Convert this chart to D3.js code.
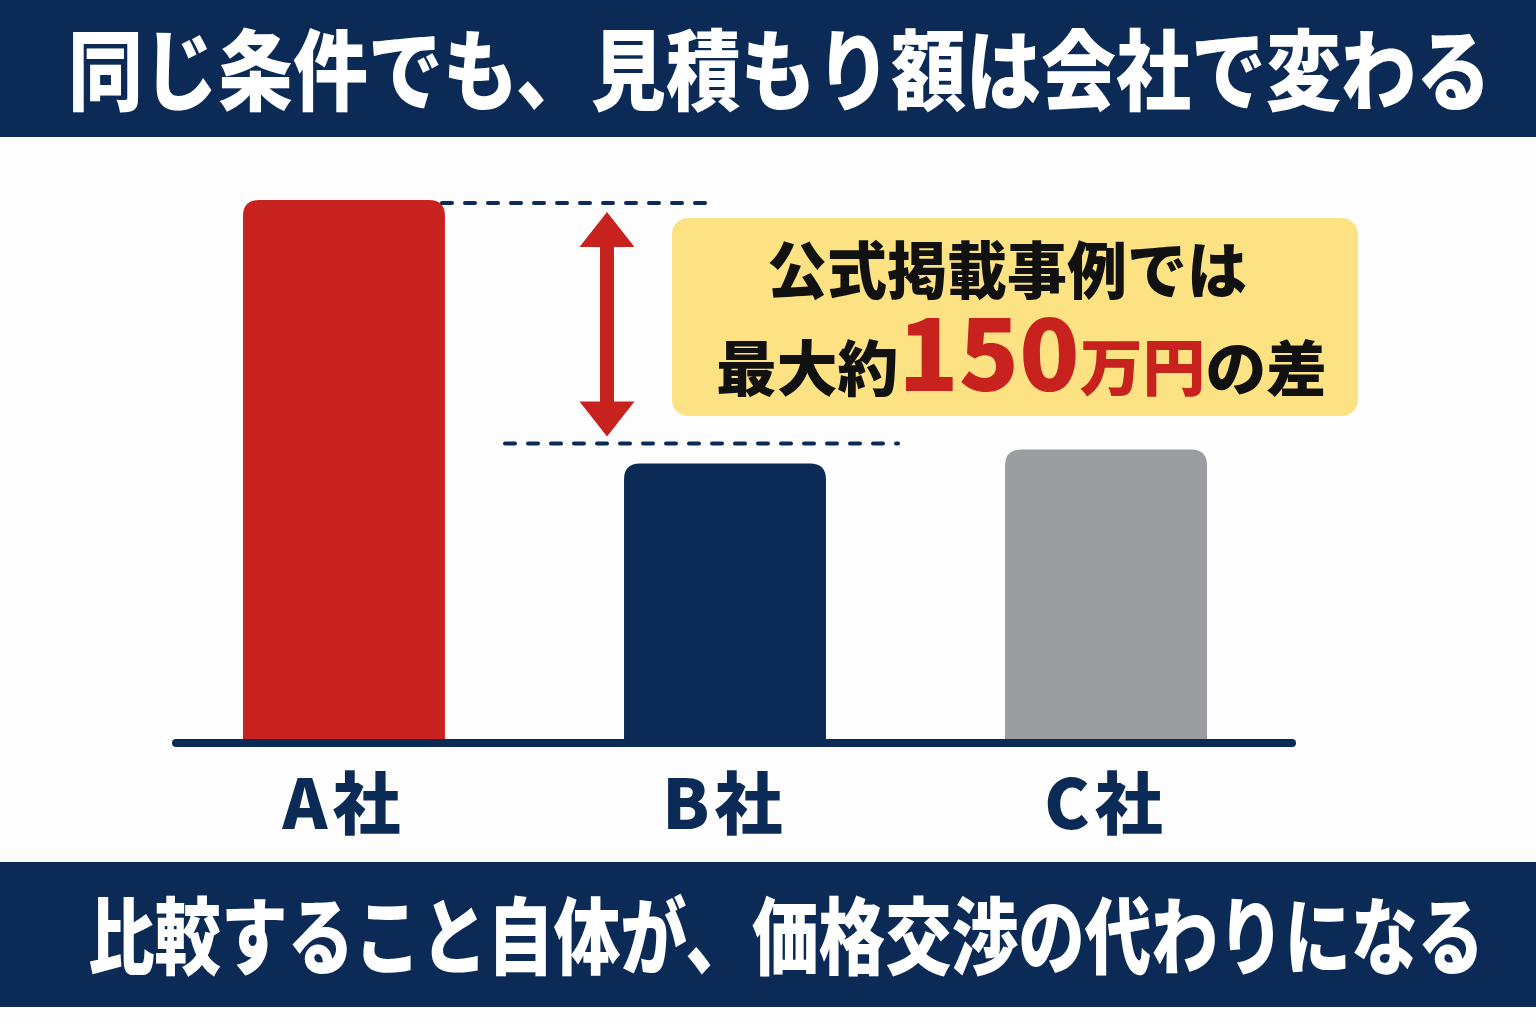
<!DOCTYPE html>
<html lang="ja">
<head>
<meta charset="utf-8">
<script src="https://cdn.jsdelivr.net/npm/d3@7"></script>
<style>
  body { margin: 0; background: #fdfdfd; }
  svg { display: block; }
  text { font-family: "Noto Sans CJK JP", "Noto Sans", sans-serif; }
</style>
</head>
<body>
<div id="chart"></div>
<script>
var width = 1536;
var height = 1024;

// chart data (万円)
var companies = ["A社", "B社", "C社"];
var estimates = [310, 159, 167];
var barColors = ["#c8221f", "#0b2a56", "#9c9da1"];

// texts
var titleText = "同じ条件でも、見積もり額は会社で変わる";
var footerText = "比較すること自体が、価格交渉の代わりになる";
var calloutLine1 = "公式掲載事例では";
var calloutLine2 = ["最大約", "150", "万円", "の差"];

var navy = "#0b2a56";
var red = "#c8221f";

var svg = d3.select("#chart")
	.append("svg")
	.attr("width", width)
	.attr("height", height);

svg.append("rect")
	.attr("width", width)
	.attr("height", height)
	.attr("fill", "#fdfdfd");

// scales
var x = d3.scaleBand()
	.domain(companies)
	.range([243, 1207])
	.paddingInner(0.47)
	.paddingOuter(0);

var y = d3.scaleLinear()
	.domain([0, 310])
	.range([741, 200]);

var data = companies.map(function(c, i) {
	return { name: c, value: estimates[i], color: barColors[i] };
});

// header banner
svg.append("rect")
	.attr("x", 0).attr("y", 0)
	.attr("width", width).attr("height", 137)
	.attr("fill", navy);

// condensed look: narrower font size, stretched vertically
svg.append("text")
	.attr("transform", "translate(68,103) scale(1,1.17)")
	.attr("font-size", 75)
	.attr("font-weight", 900)
	.attr("fill", "#ffffff")
	.attr("textLength", 1423)
	.attr("lengthAdjust", "spacingAndGlyphs")
	.text(titleText);

// bars, rounded on top only
function barPath(d) {
	var x0 = x(d.name), w = x.bandwidth(), top = y(d.value), bottom = y(0), r = 16;
	return "M" + x0 + "," + bottom +
		"L" + x0 + "," + (top + r) +
		"Q" + x0 + "," + top + " " + (x0 + r) + "," + top +
		"L" + (x0 + w - r) + "," + top +
		"Q" + (x0 + w) + "," + top + " " + (x0 + w) + "," + (top + r) +
		"L" + (x0 + w) + "," + bottom + "Z";
}

svg.selectAll("path.bar")
	.data(data)
	.enter()
	.append("path")
	.attr("class", "bar")
	.attr("d", barPath)
	.attr("fill", function(d) { return d.color; });

// baseline
svg.append("line")
	.attr("x1", 176).attr("x2", 1292)
	.attr("y1", y(0) + 2).attr("y2", y(0) + 2)
	.attr("stroke", navy)
	.attr("stroke-width", 8)
	.attr("stroke-linecap", "round");

// category labels
svg.selectAll("text.label")
	.data(data)
	.enter()
	.append("text")
	.attr("class", "label")
	.attr("x", function(d) { return x(d.name) + x.bandwidth() / 2; })
	.attr("y", 829)
	.attr("text-anchor", "middle")
	.attr("font-size", 68)
	.attr("font-weight", 900)
	.attr("fill", navy)
	.attr("letter-spacing", 5)
	.text(function(d) { return d.name; });

// dashed guide lines
var hiY = y(estimates[0]) + 3;
var loY = y(estimates[1]) - 20;

svg.append("line")
	.attr("x1", 442).attr("x2", 707)
	.attr("y1", hiY).attr("y2", hiY)
	.attr("stroke", navy)
	.attr("stroke-width", 4)
	.attr("stroke-linecap", "round")
	.attr("stroke-dasharray", "10 13");

svg.append("line")
	.attr("x1", 505).attr("x2", 898)
	.attr("y1", loY).attr("y2", loY)
	.attr("stroke", navy)
	.attr("stroke-width", 4)
	.attr("stroke-linecap", "round")
	.attr("stroke-dasharray", "10 13");

// double-headed arrow
var ax = 607, aTop = hiY + 9, aBot = loY - 7, hh = 35, hw = 27.5, sw = 7;
svg.append("path")
	.attr("d",
		"M" + ax + "," + aTop +
		"L" + (ax + hw) + "," + (aTop + hh) +
		"L" + (ax + sw) + "," + (aTop + hh) +
		"L" + (ax + sw) + "," + (aBot - hh) +
		"L" + (ax + hw) + "," + (aBot - hh) +
		"L" + ax + "," + aBot +
		"L" + (ax - hw) + "," + (aBot - hh) +
		"L" + (ax - sw) + "," + (aBot - hh) +
		"L" + (ax - sw) + "," + (aTop + hh) +
		"L" + (ax - hw) + "," + (aTop + hh) + "Z")
	.attr("fill", red);

// callout box
svg.append("rect")
	.attr("x", 672).attr("y", 218)
	.attr("width", 686).attr("height", 198)
	.attr("rx", 16)
	.attr("fill", "#fde283");

svg.append("text")
	.attr("x", 1007)
	.attr("y", 294)
	.attr("text-anchor", "middle")
	.attr("font-size", 62)
	.attr("font-weight", 900)
	.attr("fill", "#111111")
	.attr("textLength", 480)
	.attr("lengthAdjust", "spacingAndGlyphs")
	.text(calloutLine1);

var line2 = svg.append("text")
	.attr("x", 716)
	.attr("y", 391)
	.attr("font-weight", 900)
	.attr("textLength", 611)
	.attr("lengthAdjust", "spacingAndGlyphs");

var partSize = [60, 98, 62, 60];
var partColor = ["#111111", red, red, "#111111"];
line2.selectAll("tspan")
	.data(calloutLine2)
	.enter()
	.append("tspan")
	.attr("font-size", function(d, i) { return partSize[i]; })
	.attr("fill", function(d, i) { return partColor[i]; })
	.text(function(d) { return d; });

// footer banner
svg.append("rect")
	.attr("x", 0).attr("y", 862)
	.attr("width", width).attr("height", 145)
	.attr("fill", navy);

svg.append("text")
	.attr("transform", "translate(88,968) scale(1,1.25)")
	.attr("font-size", 67)
	.attr("font-weight", 900)
	.attr("fill", "#ffffff")
	.attr("textLength", 1396)
	.attr("lengthAdjust", "spacingAndGlyphs")
	.text(footerText);
</script>
</body>
</html>
